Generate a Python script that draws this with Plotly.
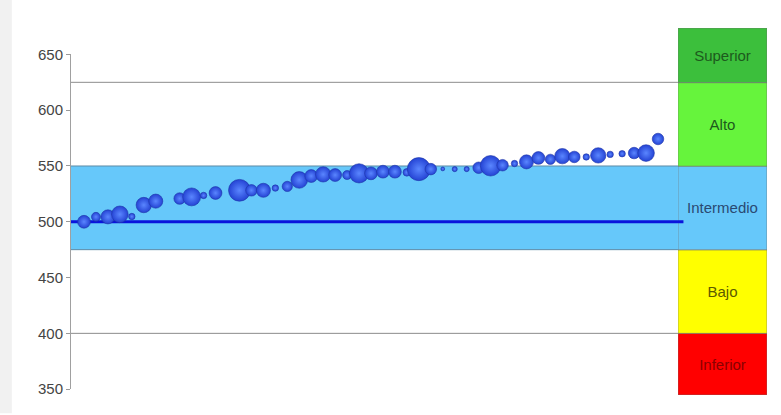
import plotly.graph_objects as go

# ---- data ----
posiciones = [1, 2, 3, 4, 5, 6, 7, 9, 10, 11, 12, 14, 15, 16, 17, 18, 19, 20, 21, 22,
              23, 24, 25, 26, 27, 28, 29, 30, 31, 32, 33, 34, 35, 36, 37, 38, 39, 40,
              41, 42, 43, 44, 45, 46, 47, 48, 49]
puntajes = [500.0, 504.4, 504.4, 506.7, 504.7, 515.0, 518.5, 520.8, 522.3, 523.6, 525.8,
            528.2, 528.2, 528.2, 530.2, 531.7, 537.5, 541.0, 542.5, 541.9, 541.9, 543.4,
            543.4, 544.9, 544.9, 544.3, 547.2, 547.2, 547.4, 547.2, 547.2, 548.4, 550.2,
            550.7, 552.2, 553.7, 557.2, 556.0, 558.8, 558.1, 558.1, 559.5, 560.4, 561.0,
            561.6, 561.6, 574.2]
pesos = [10, 7, 11, 13, 5, 12, 11, 9, 14, 5, 10, 17, 9, 11, 5, 8, 13, 10, 12, 10, 7, 15,
         10, 10, 10, 6, 18, 9, 3, 4, 4, 9, 16, 9, 5, 11, 10, 8, 12, 9, 5, 12, 5, 5, 9, 13, 9]

promedio = 500
niveles = ["Inferior", "Bajo", "Intermedio", "Alto", "Superior"]
limites = [344.7, 400, 475, 550, 625, 674.0]   # level cut points (ends = box extent)
colores_nivel = ["#ff0000", "#ffff00", "#66c8fa", "#66f43c", "#3cbf3c"]
colores_texto = ["#8a0000", "#5c5a00", "#2a4a72", "#1d5a1d", "#1d5a1d"]
y_ticks = [350, 400, 450, 500, 550, 600, 650]

fig = go.Figure()

# bubbles (radial gradient: light centre, darker rim)
fig.add_trace(go.Scatter(
    x=posiciones, y=puntajes, mode="markers",
    marker=dict(size=pesos, sizemode="diameter", sizeref=0.78, opacity=1,
                color="#2443d4",
                gradient=dict(type="radial", color="#5a86ff"),
                line=dict(width=0.6, color="#1f36a8")),
    cliponaxis=False, showlegend=False, hoverinfo="x+y",
    xaxis="x", yaxis="y"))

# level box on the right (second subplot)
for i, nombre in enumerate(niveles):
    fig.add_trace(go.Bar(
        x=[0], y=[limites[i + 1] - limites[i]], base=[limites[i]],
        width=1, marker=dict(color=colores_nivel[i], line=dict(width=0.6, color="#6e6e6e")),
        text=[nombre], textposition="inside", insidetextanchor="middle", textangle=0,
        textfont=dict(size=15, color=colores_texto[i], family="Liberation Sans, Arial"),
        showlegend=False, hoverinfo="text",
        xaxis="x2", yaxis="y2"))

shapes = [
    # left gray strip
    dict(type="rect", xref="paper", yref="paper", x0=-0.102, x1=-0.085, y0=-0.05, y1=1.1,
         fillcolor="#f1f1f1", line=dict(width=0), layer="below"),
    # intermediate band
    dict(type="rect", xref="x domain", yref="y", x0=0, x1=1, y0=limites[2], y1=limites[3],
         fillcolor="#66c8fa", line=dict(width=0), layer="below"),
    dict(type="line", xref="x domain", yref="y", x0=0, x1=1, y0=limites[3], y1=limites[3],
         line=dict(color="#5d8aa6", width=1), layer="below"),
    dict(type="line", xref="x domain", yref="y", x0=0, x1=1, y0=limites[2], y1=limites[2],
         line=dict(color="#5d8aa6", width=1), layer="below"),
    # gray level lines
    dict(type="line", xref="x domain", yref="y", x0=0, x1=1, y0=limites[4], y1=limites[4],
         line=dict(color="#8c8c8c", width=1), layer="below"),
    dict(type="line", xref="x domain", yref="y", x0=0, x1=1, y0=limites[1], y1=limites[1],
         line=dict(color="#8c8c8c", width=1), layer="below"),
    # average line
    dict(type="line", xref="x domain", yref="y", x0=0, x1=1, y0=promedio, y1=promedio,
         line=dict(color="#0a14dc", width=3), layer="below"),
    dict(type="line", xref="x domain", yref="y", x0=1, x1=1.009, y0=promedio, y1=promedio,
         line=dict(color="#0a14dc", width=3), layer="above"),
]

fig.update_layout(
    width=781, height=415,
    margin=dict(l=71, r=14, t=28, b=13),
    paper_bgcolor="white", plot_bgcolor="rgba(0,0,0,0)",
    barmode="overlay",
    shapes=shapes,
    font=dict(family="Liberation Sans, Arial", size=15, color="#444"),
    xaxis=dict(domain=[0, 0.8721], range=[-0.087, 50.67], visible=False,
               anchor="y"),
    yaxis=dict(domain=[0.016, 0.928], range=[350, 650], anchor="x",
               tickvals=y_ticks, ticks="outside", ticklen=4, tickcolor="#9a9a9a",
               showline=True, linecolor="#a0a0a0", linewidth=1,
               showgrid=False, zeroline=False,
               tickfont=dict(size=15, color="#444")),
    xaxis2=dict(domain=[0.8721, 1], range=[-0.5, 0.5], visible=False, anchor="y2"),
    yaxis2=dict(domain=[0, 1], range=[limites[0], limites[-1]], visible=False, anchor="x2"),
)

fig.write_html("out.html")
